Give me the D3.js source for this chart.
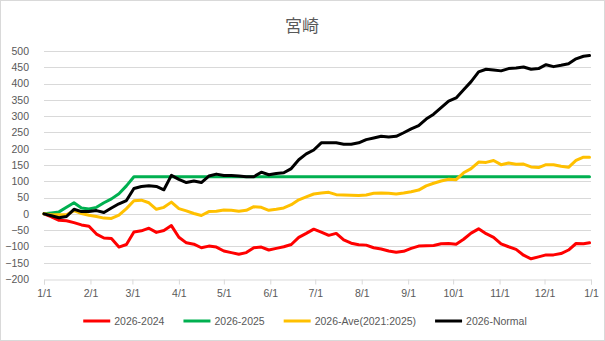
<!DOCTYPE html>
<html><head><meta charset="utf-8">
<script src="https://cdn.jsdelivr.net/npm/d3@7"></script>
<style>
html,body{margin:0;padding:0;background:#fff;}
svg{display:block;font-family:"Liberation Sans",Arial,sans-serif;}
</style></head>
<body>
<svg id="chart" width="605" height="341"></svg>
<script>
const title = "宮崎";
const days = d3.range(0, 361, 5).concat([364]);
const monthLabels = ["1/1","2/1","3/1","4/1","5/1","6/1","7/1","8/1","9/1","10/1","11/1","12/1","1/1"];
const yTicks = d3.range(-200, 501, 50);
const seriesNames = ["2026-2024","2026-2025","2026-Ave(2021:2025)","2026-Normal"];
const seriesColors = ["#FF0000","#00B050","#FFC000","#000000"];

const s2024 = [0,-9,-20,-21,-27,-34,-38,-62,-74,-76,-102,-94,-56,-52,-44,-57,-51,-36,-72,-89,
  -93,-104,-99,-102,-114,-119,-124,-119,-104,-102,-111,-106,-101,-94,-72,-60,-47,-56,-66,-60,
  -80,-90,-95,-96,-104,-108,-114,-118,-115,-106,-99,-98,-97,-92,-91,-93,-78,-59,-46,-61,
  -72,-92,-101,-109,-127,-138,-132,-126,-126,-122,-111,-91,-92,-89];
const s2025 = [0,3,6,20,34,18,15,20,34,46,62,86,114,114,114,114,114,114,114,114,
  114,114,114,114,114,114,114,114,114,114,114,114,114,114,114,114,114,114,114,114,
  114,114,114,114,114,114,114,114,114,114,114,114,114,114,114,114,114,114,114,114,
  114,114,114,114,114,114,114,114,114,114,114,114,114,114];
const sAve = [0,-3,-3,-3,10,1,-4,-8,-13,-14,-4,16,40,42,34,14,20,36,16,9,
  1,-5,7,8,12,11,8,11,22,20,11,14,18,28,43,52,61,64,66,59,
  58,57,56,58,63,64,63,61,64,68,73,86,94,101,106,105,126,139,159,158,
  164,151,156,152,153,144,142,151,151,146,143,164,174,174];
const sNormal = [0,-6,-12,-8,14,7,7,10,4,18,31,41,78,84,86,84,74,118,106,96,
  101,96,116,122,118,118,116,114,114,128,120,124,126,139,166,184,196,218,218,218,
  214,214,218,228,233,238,236,238,249,261,271,291,306,326,346,356,381,406,436,444,
  442,439,446,448,451,444,446,458,452,456,461,476,484,486];
const seriesValues = [s2024, s2025, sAve, sNormal];

const svg = d3.select("#chart");
const W = 605, H = 341;
const margin = {left:44, right:14, top:51, bottom:62};

// chart border
svg.append("rect").attr("x",0.5).attr("y",0.5).attr("width",W-1).attr("height",H-1)
  .attr("fill","#fff").attr("stroke","#d9d9d9");

const start = new Date(2026,0,1), end = new Date(2027,0,1);
const x = d3.scaleTime().domain([start,end]).range([margin.left, W-margin.right]);
const y = d3.scaleLinear().domain([-200,500]).range([H-margin.bottom, margin.top]);

// gridlines
svg.append("g").selectAll("line").data(yTicks.filter(v=>v>-200)).join("line")
  .attr("x1",x.range()[0]).attr("x2",x.range()[1])
  .attr("y1",d=>Math.round(y(d))+0.5).attr("y2",d=>Math.round(y(d))+0.5)
  .attr("stroke","#d9d9d9").attr("stroke-width",1);

// y axis
const yAxis = svg.append("g").attr("transform",`translate(${margin.left},0)`)
  .call(d3.axisLeft(y).tickValues(yTicks).tickSize(0).tickPadding(15));
yAxis.select(".domain").remove();
yAxis.selectAll("text").attr("fill","#595959").style("font-size","10.5px")
  .style("font-family","'Liberation Sans',Arial,sans-serif");

// x axis
const monthTicks = d3.timeMonth.range(start, d3.timeDay.offset(end,1));
const xAxis = svg.append("g").attr("transform",`translate(0,${Math.round(y(-200))+0.5})`)
  .call(d3.axisBottom(x).tickValues(monthTicks).tickSize(5).tickPadding(5)
    .tickFormat((d,i)=>monthLabels[i]));
xAxis.select(".domain").attr("stroke","#d9d9d9");
xAxis.selectAll(".tick line").attr("stroke","#d9d9d9");
xAxis.selectAll("text").attr("fill","#595959").style("font-size","10.5px")
  .style("font-family","'Liberation Sans',Arial,sans-serif");

// lines
const line = d3.line().x((d,i)=>x(d3.timeDay.offset(start, days[i]))).y(d=>y(d));
svg.append("g").selectAll("path").data(seriesValues).join("path")
  .attr("d",d=>line(d)).attr("fill","none")
  .attr("stroke",(d,i)=>seriesColors[i]).attr("stroke-width",3)
  .attr("stroke-linejoin","round").attr("stroke-linecap","round");

// title
svg.append("text").attr("x",302).attr("y",24).attr("text-anchor","middle")
  .attr("dominant-baseline","central")
  .style("font-family","'Noto Sans CJK JP',sans-serif").style("font-size","17px")
  .attr("fill","#595959").text(title);

// legend
const lg = svg.append("g");
const lineLen = 27, gapText = 4, gapItem = 19, legY = 321;
const items = seriesNames.map((n,i)=>{
  const g = lg.append("g");
  g.append("line").attr("x1",0).attr("x2",lineLen).attr("y1",legY).attr("y2",legY)
    .attr("stroke",seriesColors[i]).attr("stroke-width",3);
  const t = g.append("text").attr("x",lineLen+gapText).attr("y",legY)
    .attr("dominant-baseline","central").attr("fill","#595959")
    .style("font-size","10.5px").text(n);
  return {g, w: lineLen+gapText+t.node().getComputedTextLength()};
});
const total = d3.sum(items,d=>d.w) + gapItem*(items.length-1);
let cx = 305 - total/2;
items.forEach(it=>{ it.g.attr("transform",`translate(${cx},0)`); cx += it.w + gapItem; });
</script>
</body></html>
